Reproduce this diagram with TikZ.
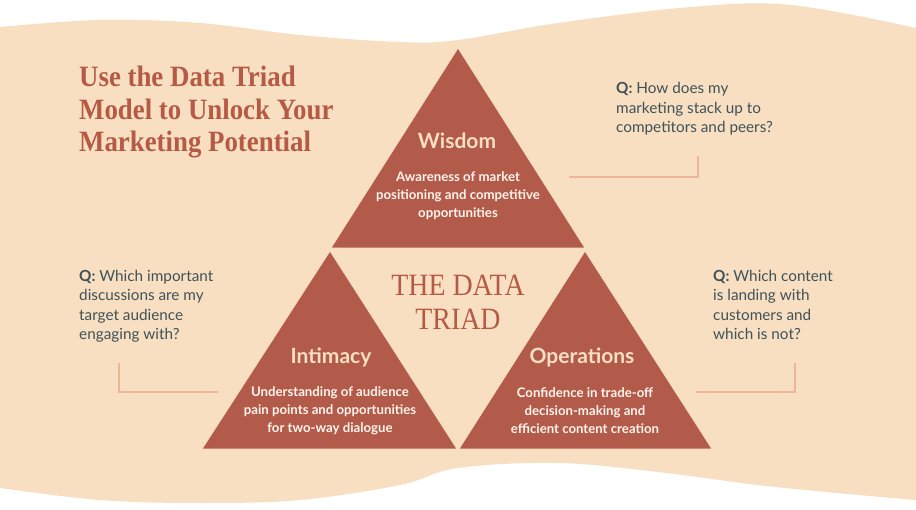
\documentclass[tikz,border=0pt]{standalone}
\usepackage{fontspec}
\setmainfont{Lato}
\newfontfamily\titlefont[FakeStretch=0.91]{Liberation Serif}
\newfontfamily\triadfont[FakeStretch=0.9]{Liberation Serif}
\definecolor{bg}{HTML}{F8DFC2}
\definecolor{tri}{HTML}{B35B4A}
\definecolor{ttl}{HTML}{B55A45}
\definecolor{qtext}{HTML}{3F5257}
\definecolor{conn}{HTML}{F0B49C}
\definecolor{lbl}{HTML}{F8DFC2}
\definecolor{desc}{HTML}{FFF4EC}
\tikzset{
  tribox/.style={fill=tri, draw=bg, line width=0.8pt, line join=miter},
  head/.style={text=lbl, font=\fontsize{21}{24}\selectfont\bfseries, inner sep=0pt},
  desctext/.style={text=desc, align=center, font=\fontsize{13.2}{18}\selectfont\bfseries, inner sep=0pt},
  qnode/.style={text=qtext, align=left, anchor=base west, font=\fontsize{15.3}{19.5}\selectfont, inner sep=0pt},
  connector/.style={draw=conn, line width=1.2pt},
}
\begin{document}
\begin{tikzpicture}[x=1pt,y=-1pt]
\useasboundingbox (0,0) rectangle (916,510);
% background wave
\fill[bg] plot[smooth, tension=0.6] coordinates {(0,27) (100,20) (200,23) (300,35) (400,42) (458,40) (558,23) (691,7) (791,5) (916,28)}
  -- plot[smooth, tension=0.6] coordinates {(916,500) (858,495) (758,485) (658,472) (558,463) (458,468) (400,485) (300,500) (200,503) (100,500) (0,488)} -- cycle;
% triangles
\fill[tribox] (458,48) -- (331,248) -- (585,248) -- cycle;
\fill[tribox] (330,251) -- (202,449) -- (457,449) -- cycle;
\fill[tribox] (585,251) -- (459,449) -- (712,449) -- cycle;
% title
\node[text=ttl, align=left, anchor=base west, inner sep=0pt, font=\titlefont\fontsize{29.5}{32.5}\selectfont\bfseries] (title) at (79,152)
  {Use the Data Triad\\Model to Unlock Your\\Marketing Potential};
\node[text=ttl, align=center, anchor=base, inner sep=0pt, font=\triadfont\fontsize{31}{34}\selectfont] (triad) at (458,330)
  {THE DATA\\TRIAD};
% headings
\node[head] (wisdom) at (457,141) {Wisdom};
\node[head] (intimacy) at (331,357) {Intimacy};
\node[head] (operations) at (582,357) {Operations};
% descriptions
\node[desctext] (wdesc) at (458,196) {Awareness of market\\positioning and competitive\\opportunities};
\node[desctext] (idesc) at (330,411) {Understanding of audience\\pain points and opportunities\\for two-way dialogue};
\node[desctext] (odesc) at (585,411) {Confidence in trade-off\\decision-making and\\efficient content creation};
% questions
\node[qnode] (q1) at (616,133) {\textbf{Q:} How does my\\marketing stack up to\\competitors and peers?};
\node[qnode] (q2) at (79,340) {\textbf{Q:} Which important\\discussions are my\\target audience\\engaging with?};
\node[qnode] (q3) at (713,340) {\textbf{Q:} Which content\\is landing with\\customers and\\which is not?};
% connectors
\coordinate (c1a) at (569,177); \coordinate (c1b) at (698,156);
\coordinate (c2a) at (119,363); \coordinate (c2b) at (218,392);
\coordinate (c3a) at (696,392); \coordinate (c3b) at (795,363);
\draw[connector] (c1a) -| (c1b);
\draw[connector] (c2a) |- (c2b);
\draw[connector] (c3a) -| (c3b);
\end{tikzpicture}
\end{document}
